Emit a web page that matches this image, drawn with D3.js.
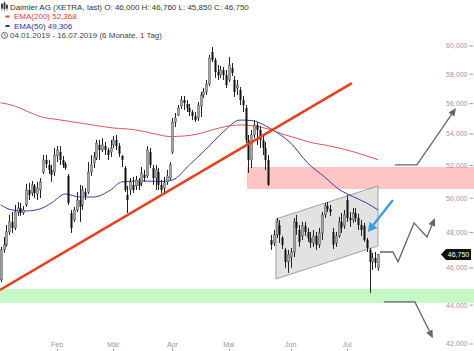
<!DOCTYPE html>
<html><head><meta charset="utf-8">
<script src="https://cdn.jsdelivr.net/npm/d3@7"></script>
<style>
body{margin:0;background:#fff}
svg{display:block;font-family:"Liberation Sans",Arial,sans-serif}
</style>
</head><body>
<svg id="c" width="474" height="351"></svg>
<script>
// ---- data (trading-day index 0 = 04.01.2019) ----
const monthLabels = ["Feb","Mär","Apr","Mai","Jun","Jul"];
const monthIdx = [20,40,61,81,103,123];
const yTicks = [42,44,46,48,50,52,54,56,58,60];

const open = [45.35,47.01,47.29,48.03,48.61,48.26,49.19,49.43,49.13,49.61,
50.50,50.32,50.75,50.26,50.50,51.60,52.35,52.04,51.73,51.60,
52.60,52.85,52.35,52.10,51.36,49.13,48.72,49.31,49.90,49.61,
50.38,50.38,51.60,52.16,52.47,53.30,52.98,53.23,52.98,52.85,
53.30,53.62,53.23,52.60,51.85,50.20,50.50,50.81,50.75,50.99,
50.93,51.42,51.36,52.85,51.85,51.23,51.60,50.81,50.62,50.99,
51.23,52.85,54.78,55.24,55.84,56.24,55.98,55.71,55.44,55.18,
55.05,55.84,56.58,56.79,57.33,59.57,59.00,58.16,57.95,58.30,
57.95,57.61,58.44,57.61,57.06,56.92,56.24,55.71,53.62,52.35,
53.94,54.59,54.26,53.62,53.11,52.35,47.57,47.40,47.86,48.43,
47.69,47.01,46.34,46.60,46.89,48.61,48.14,47.80,48.38,48.03,
47.69,47.40,47.80,47.29,47.97,49.02,49.55,49.37,48.03,47.40,
47.80,48.61,48.38,49.90,48.84,48.72,49.13,48.84,48.43,48.38,
47.57,47.01,46.34,46.56,46.00];
const high = [47.18,47.74,48.43,49.02,49.19,49.61,49.78,49.72,49.55,50.87,
50.93,51.05,50.87,50.99,51.23,52.66,52.66,52.35,52.04,53.11,
53.23,53.23,52.60,52.22,51.48,49.31,49.49,50.38,50.81,50.75,
50.62,52.22,52.66,52.85,53.62,53.62,53.74,53.49,53.11,53.62,
53.87,53.94,53.42,52.66,51.97,50.75,51.23,51.30,51.36,51.23,
51.91,51.73,53.23,53.11,52.04,52.04,51.85,51.11,51.30,51.73,
52.22,55.05,55.38,55.91,56.51,56.51,56.24,55.98,55.58,55.44,
56.11,56.79,57.06,57.61,59.36,59.93,59.15,58.65,58.58,58.51,
58.30,59.22,58.79,57.88,57.61,57.13,56.51,55.91,53.94,54.26,
54.91,54.78,54.52,53.94,53.49,52.66,47.86,48.14,48.84,48.72,
47.80,47.12,47.01,47.12,48.84,49.02,48.43,48.61,48.61,48.26,
48.03,48.14,48.03,48.26,49.19,49.72,49.78,49.61,48.26,48.03,
48.90,49.13,49.31,50.20,49.19,49.43,49.43,49.08,48.72,48.55,
47.69,47.12,46.84,46.89,46.76];
const low = [45.24,46.84,47.18,47.86,47.97,48.14,48.96,48.96,49.02,49.49,
49.90,50.14,50.02,49.90,50.02,51.48,51.85,51.48,50.99,51.36,
52.22,52.04,51.85,51.73,49.61,47.97,48.61,49.19,48.61,49.31,
49.90,50.26,51.36,51.85,52.35,52.35,52.85,52.66,52.35,52.54,
53.11,52.98,52.54,51.91,50.38,49.13,50.20,50.32,50.50,50.50,
50.75,50.99,51.23,51.85,50.81,50.50,50.50,50.32,50.38,50.81,
51.11,52.73,54.46,55.18,55.64,55.58,55.44,55.18,54.91,54.78,
54.85,55.11,56.38,56.58,57.19,58.86,57.75,57.61,57.75,57.61,
57.06,57.47,57.88,56.45,56.58,55.91,55.44,53.42,51.54,51.85,
53.74,53.30,53.11,52.66,51.73,50.75,47.01,47.23,47.69,47.40,
47.06,46.01,45.73,46.01,46.61,47.86,47.18,47.57,47.80,47.46,
47.12,47.18,47.01,47.12,47.57,48.84,49.19,48.96,47.06,47.18,
47.69,47.97,48.20,48.61,48.32,48.55,48.61,48.14,47.80,47.46,
46.89,44.65,45.90,46.01,45.85];
const close = [47.01,47.29,48.03,48.61,48.26,49.19,49.43,49.13,49.31,50.50,
50.20,50.81,50.32,50.62,50.99,52.35,52.10,51.73,51.42,52.66,
52.98,52.35,52.04,51.85,49.72,48.26,49.31,49.90,49.49,50.50,
50.14,51.60,52.04,52.54,53.42,52.98,53.30,52.98,52.66,53.11,
53.62,53.23,52.73,52.35,50.50,49.90,50.99,50.50,51.11,50.75,
51.54,51.23,52.98,52.04,51.23,51.73,50.81,50.50,50.93,51.36,
52.04,54.78,55.05,55.71,56.24,56.04,55.71,55.44,55.18,54.91,
55.91,56.58,56.79,57.33,59.15,59.00,58.16,57.95,58.30,57.95,
57.26,58.65,58.09,56.79,57.26,56.24,55.91,53.62,52.35,53.94,
54.59,54.26,53.62,53.11,52.35,50.81,47.29,47.86,48.61,47.86,
47.29,46.34,46.73,46.89,48.61,48.26,47.46,48.38,48.03,47.69,
47.40,47.80,47.29,47.97,49.02,49.55,49.37,49.19,47.29,47.80,
48.61,48.26,49.02,48.84,48.72,49.13,48.84,48.43,48.14,47.57,
47.12,46.34,46.56,46.28,46.75];

const ema200Idx = [0,5,10,14,20,28,35,40,45,50,55,60,65,70,75,80,85,90,95,100,105,110,115,120,125,130,134];
const ema200 = [56.06,55.84,55.44,55.14,54.95,54.72,54.52,54.39,54.33,54.20,54.00,53.84,53.87,54.00,54.26,54.49,54.59,54.52,54.33,54.00,53.74,53.46,53.30,53.11,52.88,52.60,52.368];
const ema50Idx = [0,4,9,14,18,23,28,33,39,43,50,57,61,67,73,79,85,89,92,96,103,109,115,120,125,130,134];
const ema50 = [49.61,49.31,49.25,49.37,49.72,50.26,50.08,50.08,50.50,50.99,51.05,51.02,51.11,52.04,53.04,54.13,54.91,54.88,54.72,54.33,53.42,52.16,51.30,50.56,50.11,49.72,49.306];

// annotations in (index, price)
const trendLine = [[-0.25,44.81],[124.75,57.40]];
const resistZone = {fromIdx:87.46, top:51.91, bottom:50.56};
const supportZone = {top:44.86, bottom:44.12};
const channel = [[97.76,48.78],[134,50.75],[134,47.23],[97.76,45.40]];
const arrowUp = [[140.0,52.04],[147.8,52.04],[161.7,55.71]];
const arrowZig = [[134.7,46.89],[139.3,46.89],[141.1,46.34],[146.8,48.55],[151.4,47.74],[154.2,48.84]];
const arrowDown = [[136.1,44.17],[147.1,44.17],[153.5,42.29]];
const blueArrow = [[139.3,49.90],[130.4,48.03]];

// ---- drawing ----
const W = 474, H = 351;
const svg = d3.select("#c");
const x = d3.scaleLinear().domain([0,134]).range([0.7,378]);
const y = d3.scaleLog().domain([42,60]).range([344,46]);
const fmt = v => v.toFixed(3).replace(".", ",");

// zones
svg.append("rect").attr("x", x(resistZone.fromIdx)).attr("y", y(resistZone.top))
  .attr("width", W - x(resistZone.fromIdx)).attr("height", y(resistZone.bottom) - y(resistZone.top))
  .attr("fill", "#ffc4c4");
svg.append("rect").attr("x", 0).attr("y", y(supportZone.top))
  .attr("width", W).attr("height", y(supportZone.bottom) - y(supportZone.top))
  .attr("fill", "#c6f8c6");
svg.append("polygon").attr("points", channel.map(p => [x(p[0]), y(p[1])].join(",")).join(" "))
  .attr("fill", "#e2e2e2").attr("stroke", "#8c8c8c").attr("stroke-width", 0.8);

// EMAs
const ln = d3.line().curve(d3.curveMonotoneX);
svg.append("path").attr("d", ln(ema200Idx.map((d,i) => [x(d), y(ema200[i])])))
  .attr("fill","none").attr("stroke","#e25454").attr("stroke-width",1);
svg.append("path").attr("d", ln(ema50Idx.map((d,i) => [x(d), y(ema50[i])])))
  .attr("fill","none").attr("stroke","#3b3ba6").attr("stroke-width",1);

// candles
const g = svg.append("g");
close.forEach((c, i) => {
  const o = open[i], cx = Math.round(x(i)) + 0.5;
  g.append("line").attr("x1", cx).attr("x2", cx).attr("y1", y(high[i])).attr("y2", y(low[i]))
    .attr("stroke", "#222").attr("stroke-width", 1);
  const top = y(Math.max(o, c)), bot = y(Math.min(o, c));
  g.append("rect").attr("x", cx - 1).attr("width", 2).attr("y", top).attr("height", Math.max(1, bot - top))
    .attr("fill", c >= o ? "#a6a6a6" : "#111").attr("stroke", c >= o ? "#333" : "none").attr("stroke-width", 0.4);
});

// trend line
svg.append("line").attr("x1", x(trendLine[0][0])).attr("y1", y(trendLine[0][1]))
  .attr("x2", x(trendLine[1][0])).attr("y2", y(trendLine[1][1]))
  .attr("stroke", "#e8401c").attr("stroke-width", 2.6);

// arrows
function arrow(pts, color, w, hl, hw) {
  const P = pts.map(p => [x(p[0]), y(p[1])]);
  const a = P[P.length-2], b = P[P.length-1];
  const dx = b[0]-a[0], dy = b[1]-a[1], L = Math.hypot(dx, dy), ux = dx/L, uy = dy/L;
  const base = [b[0]-ux*hl, b[1]-uy*hl];
  const lineP = P.slice(0, -1).concat([base]);
  svg.append("path").attr("d", d3.line()(lineP)).attr("fill","none").attr("stroke",color).attr("stroke-width",w);
  svg.append("polygon").attr("points", [b, [base[0]-uy*hw, base[1]+ux*hw], [base[0]+uy*hw, base[1]-ux*hw]].map(p=>p.join(",")).join(" "))
    .attr("fill", color);
}
arrow(arrowUp, "#666", 1.3, 8, 3.5);
arrow(arrowZig, "#666", 1.3, 8, 3.5);
arrow(arrowDown, "#666", 1.3, 8, 3.5);
arrow(blueArrow, "#3a9ee4", 2.4, 9, 5);

// y axis
const ya = svg.append("g").attr("font-size", 7).attr("fill", "#999");
yTicks.forEach(v => {
  ya.append("text").attr("x", 467.5).attr("y", y(v)).attr("dy", "0.35em").attr("text-anchor", "end").text(fmt(v));
  ya.append("line").attr("x1", 469.5).attr("x2", 473).attr("y1", y(v)).attr("y2", y(v)).attr("stroke", "#999");
});
// x axis
const xa = svg.append("g").attr("font-size", 7).attr("fill", "#999");
monthIdx.forEach((d, i) => {
  xa.append("text").attr("x", x(d)).attr("y", 347).attr("text-anchor", "middle").text(monthLabels[i]);
  xa.append("line").attr("x1", Math.round(x(d))+0.5).attr("x2", Math.round(x(d))+0.5).attr("y1", 349).attr("y2", 351).attr("stroke", "#999");
});

// price tag
const last = close[close.length-1], py = y(last);
svg.append("polygon").attr("points", `441,${py} 446,${py-5.5} 471,${py-5.5} 471,${py+5.5} 446,${py+5.5}`).attr("fill", "#111");
svg.append("text").attr("x", 458.5).attr("y", py).attr("dy", "0.35em").attr("text-anchor", "middle")
  .attr("font-size", 7).attr("fill", "#fff").text(fmt(last));

// legend
const lg = svg.append("g").attr("font-size", 8).style("white-space", "pre");
const n = close.length - 1;
// candle icon
[[2,3,6],[4.5,1.5,8],[7,4,5]].forEach(([cx, yy, h]) => {
  lg.append("line").attr("x1", cx).attr("x2", cx).attr("y1", yy).attr("y2", yy + h + 1.5).attr("stroke", "#333").attr("stroke-width", 0.6);
  lg.append("rect").attr("x", cx - 0.9).attr("y", yy + 1).attr("width", 1.8).attr("height", h - 1.5).attr("fill", "#333");
});
lg.append("text").attr("x", 10).attr("y", 9.5).attr("fill", "#333")
  .text(`Daimler AG (XETRA, last)  O: ${fmt(open[n])}  H: ${fmt(high[n])}  L: ${fmt(low[n])}  C: ${fmt(close[n])}`);
lg.append("line").attr("x1", 5.5).attr("x2", 9.5).attr("y1", 16.5).attr("y2", 16.5).attr("stroke", "#e03c3c").attr("stroke-width", 2);
lg.append("text").attr("x", 14).attr("y", 19).attr("fill", "#e03c3c").text(`EMA(200)  ${fmt(ema200[ema200.length-1])}`);
lg.append("line").attr("x1", 5.5).attr("x2", 9.5).attr("y1", 26).attr("y2", 26).attr("stroke", "#2f2fa0").attr("stroke-width", 2);
lg.append("text").attr("x", 14).attr("y", 28.5).attr("fill", "#2f2fa0").text(`EMA(50)  ${fmt(ema50[ema50.length-1])}`);
lg.append("circle").attr("cx", 4.5).attr("cy", 35.3).attr("r", 3).attr("fill", "none").attr("stroke", "#444").attr("stroke-width", 0.8);
lg.append("path").attr("d", "M4.5,33.5 L4.5,35.5 L6,36.3").attr("fill", "none").attr("stroke", "#444").attr("stroke-width", 0.7);
lg.append("text").attr("x", 10).attr("y", 38).attr("fill", "#444").text("04.01.2019 - 16.07.2019   (6 Monate, 1 Tag)");
</script>
</body></html>
